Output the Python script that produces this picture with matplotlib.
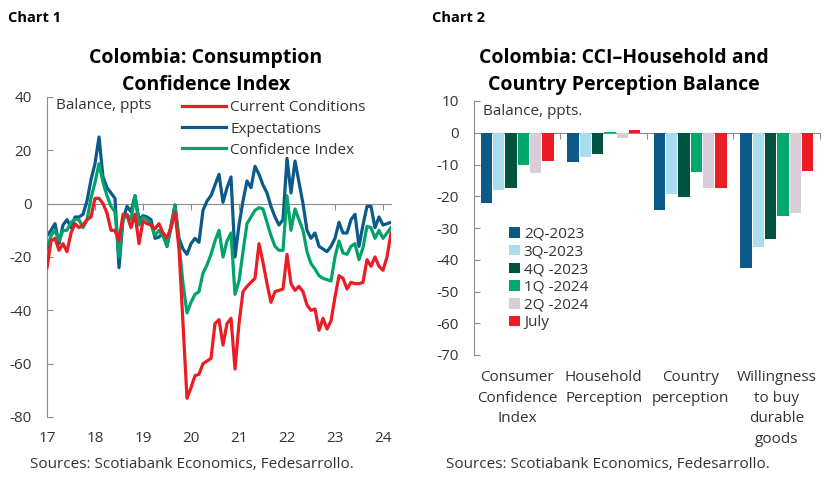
import numpy as np
import matplotlib
matplotlib.use("Agg")
import matplotlib.pyplot as plt

plt.rcParams['font.family'] = ['Open Sans', 'DejaVu Sans']
plt.rcParams['axes.unicode_minus'] = False

# Chart 1: monthly balances, ppts (first point = tick "17")
current = [-24, -14, -13, -17.5, -15, -18, -11, -7.5, -9, -8, -6, -5,
           2, 2, 0, -3.5, -10, -10, -14, -4, -4.5, -9, -4, -15,
           -6.5, -7.5, -8, -9.5, -7.5, -11, -12.8, -9, -3, -17, -45, -73,
           -69, -64.5, -64, -60, -59, -58, -45, -43.5, -53, -45, -43, -62,
           -45, -33, -31, -29.5, -28, -15, -22, -30, -37, -33, -32.5, -32,
           -19, -30, -32.5, -31, -33, -38, -40, -39.5, -47.5, -43, -47, -44,
           -35, -27, -28, -32, -29.5, -30, -30, -29.5, -21, -23.5, -20, -23.5,
           -25, -20, -11]
expectations = [-12, -10, -7.5, -15, -8, -6, -9, -5, -5, -4, 1, 9,
                15, 25, 10, 6, 4, 2, -24, -6, -1, -3, 3, -6,
                -4.5, -5, -6, -13, -12.5, -11, -16, -9, -0.5, -13, -17, -19,
                -15, -13, -14.5, -2.5, 1, 3, 7, 11, 0.5, 6, 10, -20,
                -8, 1, 8.5, 6, 14, 11, 7, 4, -1, -5, -8, -6,
                17, 4, 16, 8, 0, -10, -13, -11, -16, -17, -18, -16,
                -13, -7, -11, -11, -6, -4, -16, -8, -1, -1, -9, -5,
                -8, -7.5, -7]
confidence = [-17, -12, -10, -14, -10, -10, -7, -6, -6, -9, -6, 2,
              8, 15, 8, 3, -1, -3, -20, -6, -4, -6, 3, -8,
              -5, -6, -8, -12, -10, -12, -16, -8, -0.5, -15, -30, -41,
              -37, -34, -33, -26, -23, -19, -14, -10, -20, -14, -11, -34,
              -29, -18, -7.5, -5, -2.5, -1.5, -2, -7, -12, -16, -17.5, -17.5,
              3, -10, -2, -6, -10, -18, -22.5, -24.5, -27, -28, -28.5, -29,
              -20, -14, -18.5, -19, -16, -15, -21, -16.5, -8.5, -9, -13, -10,
              -13, -11, -9]
year_labels = ['17', '18', '19', '20', '21', '22', '23', '24']

# Chart 2
categories = ['Consumer\nConfidence\nIndex', 'Household\nPerception',
              'Country\nperception', 'Willingness\nto buy\ndurable\ngoods']
periods = ['2Q-2023', '3Q-2023', '4Q -2023', '1Q -2024', '2Q -2024', 'July']
balances = [
    [-22, -9.2, -24.3, -42.7],
    [-18, -7.6, -19.4, -36],
    [-17.3, -6.6, -20.2, -33.5],
    [-10, 0.3, -12.3, -26.3],
    [-12.7, -1.8, -17.3, -25.4],
    [-8.8, 1.0, -17.3, -12],
]

RED = '#ec1c24'
BLUE = '#0b5a8a'
GREEN = '#00a36c'
bar_colors = ['#0b5a8a', '#a9dced', '#00543f', '#00a86b', '#d9cdd7', '#ec1c24']
GREY = '#8c8c8c'
TXT = '#333333'
FS = 11

fig = plt.figure(figsize=(8.28, 4.83), dpi=100)

# ---------- Chart 1 ----------
ax1 = fig.add_axes([47 / 828, 1 - 417 / 483, (391 - 47) / 828, 320 / 483])
x = np.arange(len(current))
l_cur, = ax1.plot(x, current, color=RED, lw=2.3, zorder=4)
l_exp, = ax1.plot(x, expectations, color=BLUE, lw=2.3, zorder=2)
l_con, = ax1.plot(x, confidence, color=GREEN, lw=2.3, zorder=3)
ax1.set_xlim(0, len(current) - 1)
ax1.set_ylim(-80, 40)
ax1.set_yticks(range(-80, 41, 20))
for s in ['top', 'right', 'bottom']:
    ax1.spines[s].set_visible(False)
ax1.spines['left'].set_color(GREY)
ax1.tick_params(axis='y', direction='in', length=4, color=GREY, labelsize=FS,
                labelcolor=TXT, pad=11)
year_ticks = np.arange(0, len(current), 12)
ax1.set_xticks(year_ticks)
ax1.set_xticklabels(year_labels)
ax1.tick_params(axis='x', length=0, labelsize=FS, labelcolor=TXT, pad=10)
zero1 = ax1.secondary_xaxis(0, transform=ax1.transData)
zero1.set_xticks(year_ticks[1:])
zero1.tick_params(direction='out', length=4, color=GREY, labelbottom=False)
zero1.spines['bottom'].set_color(GREY)
ax1.text(0.025, 0.972, 'Balance, ppts', transform=ax1.transAxes, fontsize=FS,
         color=TXT, va='center', ha='left')
ax1.legend([l_cur, l_exp, l_con], ['Current Conditions', 'Expectations', 'Confidence Index'],
           loc='upper left', bbox_to_anchor=(0.37, 1.013), frameon=False, fontsize=FS,
           handlelength=2.9, handletextpad=0.27, labelspacing=0.4, borderpad=0,
           labelcolor=TXT)

fig.text(8 / 828, 1 - 18 / 483, 'Chart 1', fontsize=10.5, fontweight='bold', va='center')
fig.text(206 / 828, 1 - 71.5 / 483, 'Colombia: Consumption\nConfidence Index',
         fontsize=14, fontweight='bold', ha='center', va='center', linespacing=1.45)
fig.text(30 / 828, 1 - 465 / 483, 'Sources: Scotiabank Economics, Fedesarrollo.',
         fontsize=FS, color=TXT, va='center')

# ---------- Chart 2 ----------
ax2 = fig.add_axes([474 / 828, 1 - 355 / 483, (820 - 474) / 828, 254 / 483])
pos = np.arange(len(categories))
slot = 0.142
for k, (lab, vals) in enumerate(zip(periods, balances)):
    ax2.bar(pos + (k - 2.5) * slot, vals, width=slot * 0.92, color=bar_colors[k],
            label=lab, zorder=2)
ax2.set_xlim(-0.5, len(categories) - 0.5)
ax2.set_ylim(-70, 10)
ax2.set_yticks(range(-70, 11, 10))
for s in ['top', 'right', 'bottom']:
    ax2.spines[s].set_visible(False)
ax2.spines['left'].set_color(GREY)
ax2.tick_params(axis='y', direction='in', length=4, color=GREY, labelsize=FS,
                labelcolor=TXT, pad=11)
ax2.set_xticks(pos)
ax2.set_xticklabels(categories, fontsize=FS, color=TXT, linespacing=1.5)
ax2.tick_params(axis='x', length=0, pad=11)
zero2 = ax2.secondary_xaxis(0, transform=ax2.transData)
zero2.set_xticks(pos + 0.5)
zero2.tick_params(direction='out', length=4, color=GREY, labelbottom=False)
zero2.spines['bottom'].set_color(GREY)
ax2.text(0.025, 0.96, 'Balance, ppts.', transform=ax2.transAxes, fontsize=FS,
         color=TXT, va='center', ha='left')
ax2.legend(loc='upper left', bbox_to_anchor=(0.08, 0.535), frameon=False, fontsize=FS,
           handlelength=0.7, handleheight=0.7, handletextpad=0.25, labelspacing=0.18,
           borderpad=0, labelcolor=TXT)

fig.text(432 / 828, 1 - 18 / 483, 'Chart 2', fontsize=10.5, fontweight='bold', va='center')
fig.text(624 / 828, 1 - 71.5 / 483, 'Colombia: CCI\u2013Household and\nCountry Perception Balance',
         fontsize=14, fontweight='bold', ha='center', va='center', linespacing=1.45)
fig.text(446 / 828, 1 - 465 / 483, 'Sources: Scotiabank Economics, Fedesarrollo.',
         fontsize=FS, color=TXT, va='center')

fig.savefig('out.png', dpi=100)
